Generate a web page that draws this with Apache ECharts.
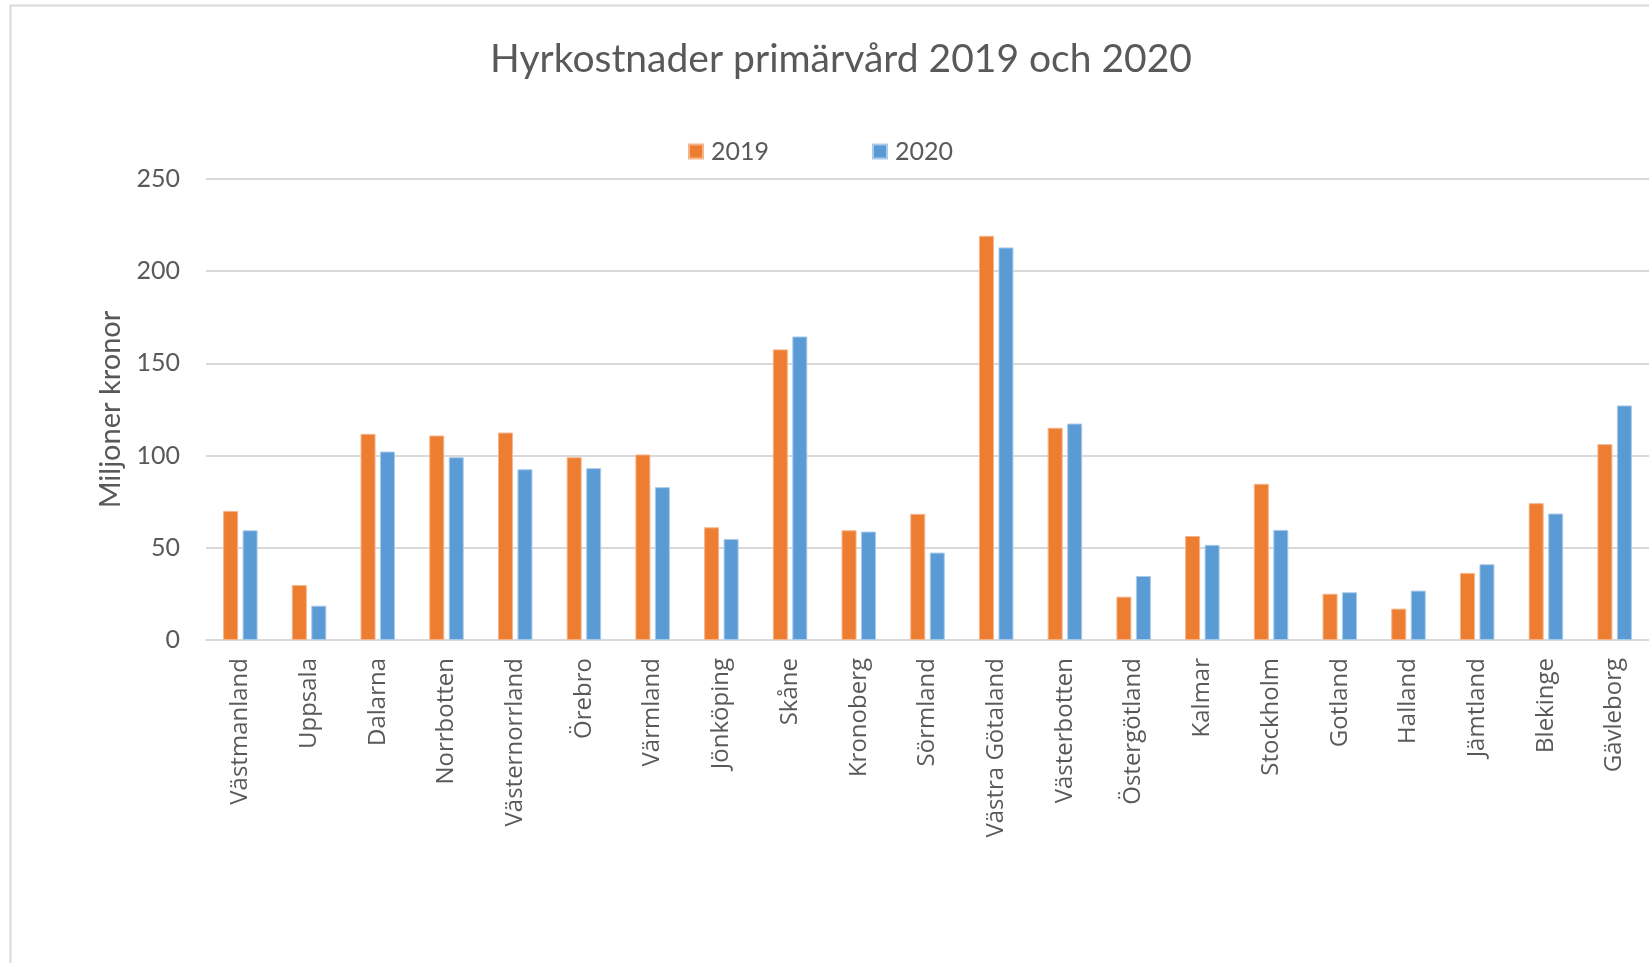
<!DOCTYPE html>
<html>
<head>
<meta charset="utf-8">
<script src="https://cdn.jsdelivr.net/npm/echarts@6/dist/echarts.min.js"></script>
<style>
html,body{margin:0;padding:0;background:#fff;}
#chart{width:1649px;height:963px;}
</style>
</head>
<body>
<div id="chart"></div>
<script>
const categories = ["Västmanland","Uppsala","Dalarna","Norrbotten","Västernorrland","Örebro","Värmland","Jönköping","Skåne","Kronoberg","Sörmland","Västra Götaland","Västerbotten","Östergötland","Kalmar","Stockholm","Gotland","Halland","Jämtland","Blekinge","Gävleborg"];
const values2019 = [70.0, 29.8, 111.8, 110.9, 112.5, 99.1, 100.6, 61.1, 157.6, 59.5, 68.4, 219.2, 115.1, 23.5, 56.4, 84.7, 25.1, 17.0, 36.4, 74.2, 106.2];
const values2020 = [59.5, 18.6, 102.2, 99.1, 92.6, 93.2, 82.9, 54.8, 164.6, 58.8, 47.4, 212.9, 117.4, 34.7, 51.6, 59.7, 25.9, 26.8, 41.1, 68.6, 127.2];
const seriesNames = ["2019", "2020"];
const yTicks = [0, 50, 100, 150, 200, 250];

const textColor = '#595959';
const chart = echarts.init(document.getElementById('chart'));
chart.setOption({
  animation: false,
  backgroundColor: '#ffffff',
  title: {
    text: 'Hyrkostnader primärvård 2019 och 2020',
    left: 836, top: 35, textAlign: 'center',
    textStyle: { color: textColor, fontFamily: 'Lato', fontWeight: 'normal', fontSize: 39 }
  },
  legend: {
    data: seriesNames,
    left: 683, top: 134,
    itemWidth: 14, itemHeight: 14, itemGap: 103,
    icon: 'rect',
    textStyle: { color: textColor, fontFamily: 'Lato', fontSize: 25, padding: [0, 0, 0, 3] }
  },
  graphic: [{
    type: 'rect', shape: { x: 10.5, y: 5.5, width: 1700, height: 1000 },
    style: { fill: 'none', stroke: '#d9d9d9', lineWidth: 2 }, silent: true, z: -1
  }],
  grid: { left: 206, right: -3, top: 179, bottom: 323, containLabel: false },
  xAxis: {
    type: 'category', data: categories,
    axisLine: { show: true, lineStyle: { color: '#d9d9d9', width: 2 } },
    axisTick: { show: false },
    axisLabel: { rotate: 90, margin: 18, interval: 0, color: textColor, fontFamily: 'Open Sans', fontSize: 24 }
  },
  yAxis: {
    type: 'value', min: 0, max: 250, interval: 50,
    name: 'Miljoner kronor', nameLocation: 'middle', nameGap: 80, nameRotate: 90,
    nameTextStyle: { color: textColor, fontFamily: 'Lato', fontSize: 29 },
    axisLine: { show: false }, axisTick: { show: false },
    axisLabel: { margin: 26, color: textColor, fontFamily: 'Lato', fontSize: 25,
      formatter: v => yTicks.includes(v) ? String(v) : '' },
    splitLine: { lineStyle: { color: '#d9d9d9', width: 2 } }
  },
  series: [
    { name: seriesNames[0], type: 'bar', data: values2019, barWidth: 15, barGap: '30%',
      itemStyle: { color: '#ED7D31', borderColor: '#f6b48a', borderWidth: 1 } },
    { name: seriesNames[1], type: 'bar', data: values2020, barWidth: 15, barGap: '30%',
      itemStyle: { color: '#5B9BD5', borderColor: '#a9cbea', borderWidth: 1 } }
  ]
});
</script>
</body>
</html>
